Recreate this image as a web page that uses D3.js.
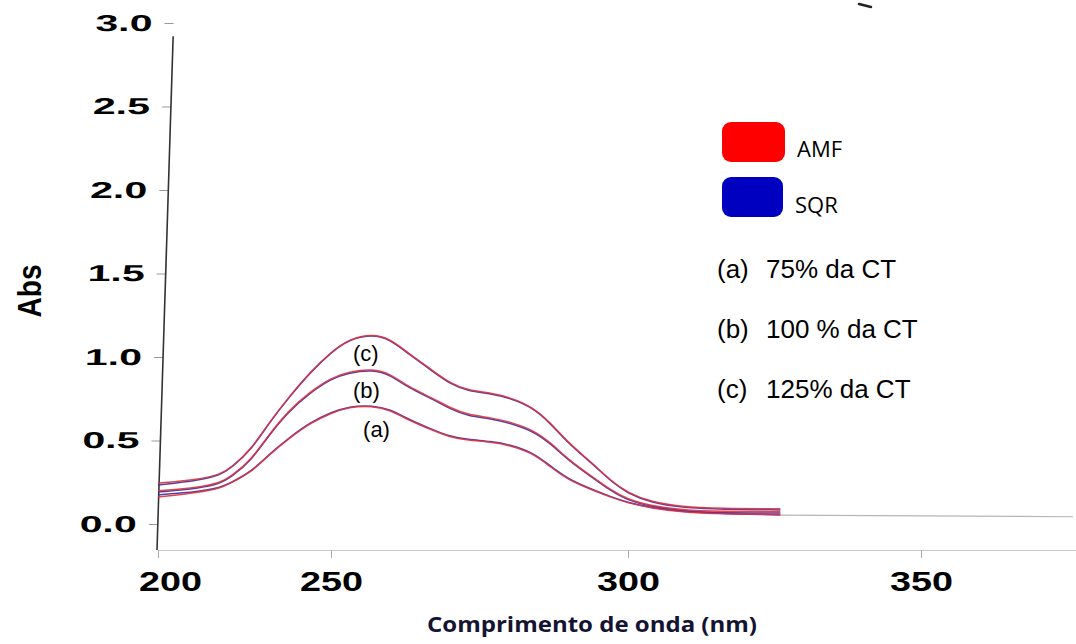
<!DOCTYPE html>
<html>
<head>
<meta charset="utf-8">
<script src="https://cdn.jsdelivr.net/npm/d3@7"></script>
<style>
    body { margin: 0; background: #fff; }
    .uv-chart { width: 1076px; height: 644px; }
</style>
</head>
<body>
<div class="uv-chart"></div>
<script>
// comprimento de onda (nm)
let wavelengths = [200, 212, 218, 221, 227, 232, 238, 244, 250, 253, 257, 260, 263, 267, 270, 273, 277, 280, 284, 287, 290, 294, 297, 300, 304, 309, 316, 326]
// AMF (vermelho) e SQR (azul) para 75%, 100% e 125% da CT
let amfA = [0.162, 0.190, 0.215, 0.246, 0.311, 0.413, 0.515, 0.605, 0.665, 0.701, 0.707, 0.683, 0.623, 0.563, 0.521, 0.503, 0.491, 0.473, 0.425, 0.341, 0.263, 0.204, 0.162, 0.126, 0.096, 0.072, 0.060, 0.058]
let sqrA = [0.175, 0.195, 0.218, 0.248, 0.314, 0.417, 0.519, 0.609, 0.669, 0.705, 0.711, 0.688, 0.628, 0.567, 0.525, 0.507, 0.495, 0.477, 0.430, 0.346, 0.267, 0.207, 0.165, 0.129, 0.098, 0.075, 0.062, 0.055]
let amfB = [0.200, 0.220, 0.248, 0.283, 0.385, 0.535, 0.685, 0.792, 0.876, 0.912, 0.930, 0.900, 0.822, 0.756, 0.697, 0.655, 0.637, 0.613, 0.565, 0.487, 0.385, 0.283, 0.206, 0.146, 0.110, 0.086, 0.075, 0.074]
let sqrB = [0.192, 0.214, 0.243, 0.279, 0.381, 0.531, 0.680, 0.787, 0.870, 0.906, 0.924, 0.894, 0.816, 0.750, 0.690, 0.648, 0.630, 0.606, 0.558, 0.481, 0.380, 0.279, 0.202, 0.141, 0.105, 0.080, 0.068, 0.066]
let amfC = [0.245, 0.268, 0.298, 0.335, 0.449, 0.605, 0.766, 0.910, 1.030, 1.108, 1.140, 1.108, 1.024, 0.922, 0.844, 0.802, 0.784, 0.760, 0.701, 0.605, 0.485, 0.365, 0.263, 0.186, 0.132, 0.104, 0.094, 0.092]
let sqrC = [0.234, 0.262, 0.294, 0.333, 0.446, 0.602, 0.763, 0.908, 1.028, 1.106, 1.136, 1.105, 1.020, 0.918, 0.840, 0.798, 0.780, 0.756, 0.698, 0.601, 0.481, 0.361, 0.260, 0.182, 0.128, 0.100, 0.088, 0.085]
// linha de base depois do fim da varredura
let baselineNm = [326, 376]
let baselineAbs = [0.054, 0.044]

let xTickValues = [200, 250, 300, 350]
let yTickValues = [0, 0.5, 1.0, 1.5, 2.0, 2.5, 3.0]
let curveLabels = ["(a)", "(b)", "(c)"]
let legendSeries = ["AMF", "SQR"]
let legendNotes = [["(a)", "75% da CT"], ["(b)", "100 % da CT"], ["(c)", "125% da CT"]]

let width = 1076, height = 644
let svg = d3.select(".uv-chart")
    .append("svg")
    .attr("width", width)
    .attr("height", height)

// eixo x do scan original nao e uniforme, escala por partes
let xScale = d3.scaleLinear()
    .domain([200, 250, 300, 350, 376.5])
    .range([158, 331, 628, 921, 1076])
let yScale = d3.scaleLinear()
    .domain([-0.155, 3.0])
    .range([550, 23])
let axisY = 550

let line = d3.line()
    .x((d) => xScale(d[0]))
    .y((d) => yScale(d[1]))
    .curve(d3.curveBasis)

// eixo x
let xAxis = svg.append("g")
    .attr("transform", `translate(0,${axisY})`)
    .call(d3.axisBottom(xScale).tickValues(xTickValues).tickSize(8).tickSizeOuter(0).tickPadding(14).tickFormat(d3.format("d")))
xAxis.select(".domain").attr("stroke", "#c9c9c9").attr("stroke-width", 1.2)
xAxis.selectAll(".tick line").attr("stroke", "#aaa")
xAxis.selectAll(".tick text")
    .attr("font-family", "Liberation Sans, Arial, sans-serif")
    .attr("font-weight", "bold")
    .attr("font-size", 27)
    .attr("fill", "#000")
    .attr("textLength", 63)
    .attr("lengthAdjust", "spacingAndGlyphs")
    .attr("dx", (d, i) => i == 0 ? 12 : 0)
    .attr("dy", "0.72em")

// eixo y (inclinado como no original)
let yAxisG = svg.append("g")
    .attr("transform", `translate(0,${axisY}) skewX(-1.8) translate(0,${-axisY})`)
let yAxis = yAxisG.append("g")
    .attr("transform", "translate(157,0)")
    .call(d3.axisLeft(yScale).tickValues(yTickValues).tickSize(9).tickPadding(12).tickFormat(d3.format(".1f")))
yAxis.select(".domain").remove()
yAxis.selectAll(".tick line").attr("stroke", "#999")
yAxis.selectAll(".tick text")
    .attr("font-family", "Liberation Sans, Arial, sans-serif")
    .attr("font-weight", "bold")
    .attr("font-size", 23)
    .attr("fill", "#000")
    .attr("textLength", 57)
    .attr("lengthAdjust", "spacingAndGlyphs")
yAxisG.append("path")
    .attr("stroke", "#333")
    .attr("stroke-width", 1.6)
    .attr("fill", "none")
    .attr("d", `M157,${axisY} V${yScale(2.92)}`)

svg.append("text")
    .attr("transform", "translate(41,291) rotate(-90)")
    .attr("text-anchor", "middle")
    .attr("font-family", "Liberation Sans, Arial, sans-serif")
    .attr("font-weight", "bold")
    .attr("font-size", 33)
    .attr("fill", "#000")
    .attr("textLength", 53)
    .attr("lengthAdjust", "spacingAndGlyphs")
    .text("Abs")

svg.append("text")
    .attr("x", 592)
    .attr("y", 632)
    .attr("text-anchor", "middle")
    .attr("font-family", "Open Sans, sans-serif")
    .attr("font-weight", "bold")
    .attr("font-size", 21)
    .attr("fill", "#141432")
    .attr("textLength", 330)
    .attr("lengthAdjust", "spacingAndGlyphs")
    .text("Comprimento de onda (nm)")

// espectros
let baseline = d3.zip(baselineNm, baselineAbs)
svg.append("path")
    .attr("d", line(baseline))
    .attr("fill", "none")
    .attr("stroke", "#b5b5b5")
    .attr("stroke-width", 1.2)

let spectra = [
    { values: sqrA, color: "#3b2f9e" },
    { values: sqrB, color: "#3b2f9e" },
    { values: sqrC, color: "#3b2f9e" },
    { values: amfA, color: "#e0303e" },
    { values: amfB, color: "#e0303e" },
    { values: amfC, color: "#e0303e" }
]
svg.append("g")
    .selectAll("path")
    .data(spectra)
    .enter()
    .append("path")
    .attr("d", (d) => line(d3.zip(wavelengths, d.values)))
    .attr("fill", "none")
    .attr("stroke", (d) => d.color)
    .attr("stroke-width", 1.5)
    .attr("opacity", 0.9)

// rotulos das curvas
let curveLabelPos = [[255.4, 0.52], [253.7, 0.755], [253.7, 0.975]]
svg.append("g")
    .selectAll("text")
    .data(curveLabels)
    .enter()
    .append("text")
    .attr("x", (d, i) => xScale(curveLabelPos[i][0]))
    .attr("y", (d, i) => yScale(curveLabelPos[i][1]))
    .attr("font-family", "Liberation Sans, Arial, sans-serif")
    .attr("font-size", 22)
    .attr("fill", "#000")
    .text((d) => d)

// legenda
let legendColor = ["#ff0000", "#0000c0"]
let legend = svg.append("g")
legend.selectAll("rect")
    .data(legendSeries)
    .enter()
    .append("rect")
    .attr("x", 722)
    .attr("y", (d, i) => 122 + i * 55)
    .attr("width", (d, i) => i == 0 ? 63 : 61)
    .attr("height", 40)
    .attr("rx", 9)
    .attr("fill", (d, i) => legendColor[i])
legend.selectAll("text.series")
    .data(legendSeries)
    .enter()
    .append("text")
    .attr("class", "series")
    .attr("x", (d, i) => i == 0 ? 797 : 795)
    .attr("y", (d, i) => 157 + i * 56)
    .attr("font-family", "Open Sans, sans-serif")
    .attr("font-size", 22)
    .attr("fill", "#000")
    .text((d) => d)
let notes = legend.selectAll("text.note")
    .data(legendNotes)
    .enter()
    .append("text")
    .attr("class", "note")
    .attr("y", (d, i) => 278 + i * 60)
    .attr("font-family", "Liberation Sans, Arial, sans-serif")
    .attr("font-size", 26)
    .attr("fill", "#000")
notes.append("tspan").attr("x", 717).text((d) => d[0])
notes.append("tspan").attr("x", 766).text((d) => d[1])

// risco solto no topo da digitalizacao
svg.append("path")
    .attr("d", "M859,4 L871,7")
    .attr("stroke", "#222")
    .attr("stroke-width", 2.5)
    .attr("stroke-linecap", "round")
</script>
</body>
</html>
